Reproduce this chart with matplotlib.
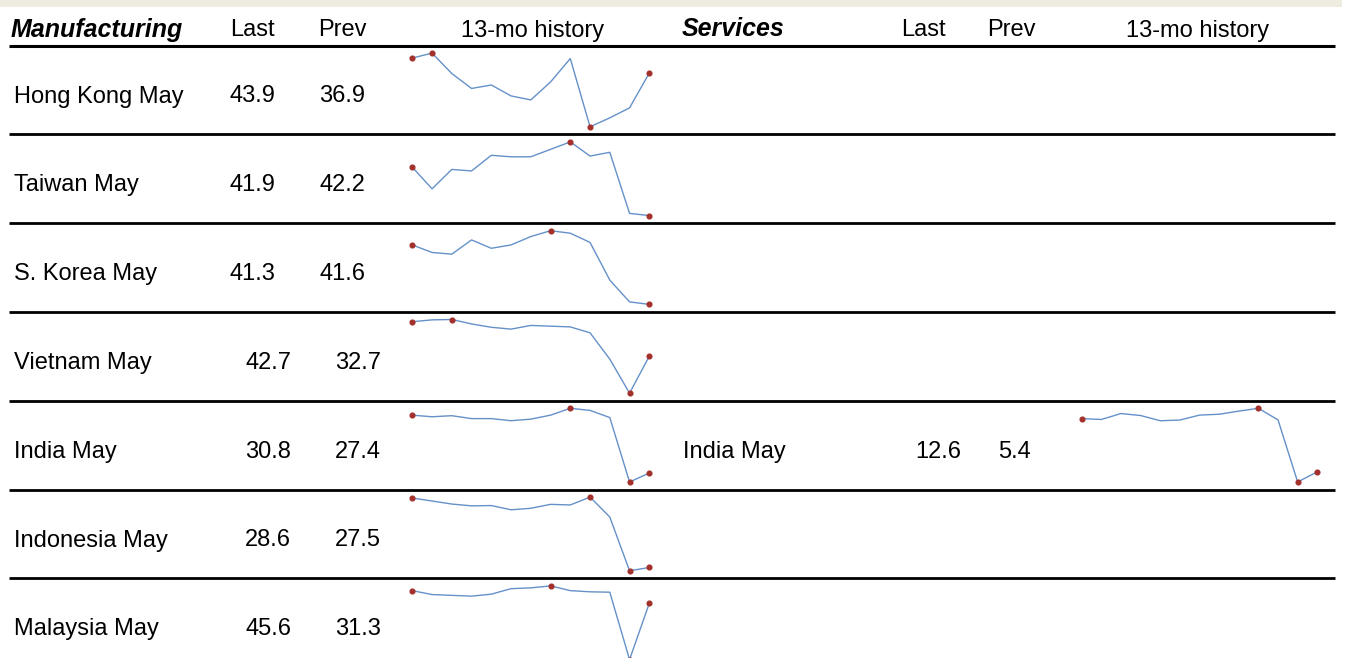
import matplotlib
matplotlib.use("Agg")
import matplotlib.pyplot as plt
import numpy as np

# ---------------- data ----------------
mfg_names = ["Hong Kong May", "Taiwan May", "S. Korea May", "Vietnam May",
             "India May", "Indonesia May", "Malaysia May"]
hk = [46.9, 47.9, 43.8, 40.8, 41.5, 39.3, 38.5, 42.1, 46.8, 33.1, 34.9, 36.9, 43.9]
tw = [48.4, 45.5, 48.1, 47.9, 50.0, 49.8, 49.8, 50.8, 51.8, 49.9, 50.4, 42.2, 41.9]
kr = [48.4, 47.5, 47.3, 49.0, 48.0, 48.4, 49.4, 50.1, 49.8, 48.7, 44.2, 41.6, 41.3]
vn = [52.0, 52.5, 52.6, 51.4, 50.5, 50.0, 51.0, 50.8, 50.6, 49.0, 41.9, 32.7, 42.7]
in_mfg = [52.7, 52.1, 52.5, 51.4, 51.4, 50.6, 51.2, 52.7, 55.3, 54.5, 51.8, 27.4, 30.8]
idn = [51.6, 50.6, 49.6, 49.0, 49.1, 47.7, 48.2, 49.5, 49.3, 51.9, 45.3, 27.5, 28.6]
my = [48.8, 47.8, 47.6, 47.4, 47.9, 49.3, 49.5, 50.0, 48.8, 48.5, 48.4, 31.3, 45.6]
mfg_series = [hk, tw, kr, vn, in_mfg, idn, my]

svc_names = ["India May"]
in_svc = [50.2, 49.6, 53.8, 52.4, 48.7, 49.2, 52.7, 53.3, 55.5, 57.5, 49.3, 5.4, 12.6]
svc_series = [in_svc]
svc_rows = [4]

headers_left = ["Manufacturing", "Last", "Prev", "13-mo history"]
headers_right = ["Services", "Last", "Prev", "13-mo history"]

# ---------------- layout ----------------
W, H = 1352, 658
fig = plt.figure(figsize=(W / 100, H / 100), dpi=100)
base = fig.add_axes([0, 0, 1, 1])
base.set_xlim(0, W)
base.set_ylim(H, 0)
base.axis("off")

FONT = ["Liberation Sans", "DejaVu Sans"]
FS = 17
LINE_C = "#6591C9"
MARK_C = "#A3302B"

# beige band at top
base.fill_between([0, 1342], 0, 7, color="#EEEBE1", lw=0)

row_top0 = 45.5
row_h = 88.8
n_rows = len(mfg_names)

# horizontal rules
for i in range(n_rows):
    y = row_top0 + i * row_h
    base.plot([9, 1335], [y, y], color="black", lw=2.0 if i else 2.2,
              solid_capstyle="butt")

# headers
hb = 36.5
base.text(11, hb, headers_left[0], fontsize=18, family=FONT, weight="bold",
          style="italic", va="baseline", ha="left")
base.text(252, hb, headers_left[1], fontsize=FS, family=FONT, va="baseline", ha="center")
base.text(342, hb, headers_left[2], fontsize=FS, family=FONT, va="baseline", ha="center")
base.text(533, hb, headers_left[3], fontsize=FS, family=FONT, va="baseline", ha="center")
base.text(682, hb, headers_right[0], fontsize=18, family=FONT, weight="bold",
          style="italic", va="baseline", ha="left")
base.text(923, hb, headers_right[1], fontsize=FS, family=FONT, va="baseline", ha="center")
base.text(1011, hb, headers_right[2], fontsize=FS, family=FONT, va="baseline", ha="center")
base.text(1198, hb, headers_right[3], fontsize=FS, family=FONT, va="baseline", ha="center")


def sparkline(vals, x0, x1, top):
    yt = top + 7.6
    yb = top + 81.3
    ax = fig.add_axes([x0 / W, 1 - yb / H, (x1 - x0) / W, (yb - yt) / H])
    v = np.asarray(vals)
    xs = np.arange(len(v))
    ax.plot(xs, v, color=LINE_C, lw=1.0, clip_on=False)
    idx = sorted({0, len(v) - 1, int(np.argmax(v)), int(np.argmin(v))})
    ax.plot(xs[idx], v[idx], "o", color=MARK_C, ms=3.4, mec=MARK_C,
            clip_on=False, zorder=3)
    ax.set_xlim(0, len(v) - 1)
    ax.set_ylim(v.min(), v.max())
    ax.axis("off")
    ax.patch.set_alpha(0)


for i, (name, vals) in enumerate(zip(mfg_names, mfg_series)):
    top = row_top0 + i * row_h
    bl = top + 57
    base.text(14, bl, name, fontsize=FS, family=FONT, va="baseline", ha="left")
    xl, xp = (275, 365) if i < 3 else (291, 381)
    base.text(xl, bl, f"{vals[-1]:.1f}", fontsize=FS, family=FONT, va="baseline", ha="right")
    base.text(xp, bl, f"{vals[-2]:.1f}", fontsize=FS, family=FONT, va="baseline", ha="right")
    sparkline(vals, 412.3, 649.3, top)

for r, name, vals in zip(svc_rows, svc_names, svc_series):
    top = row_top0 + r * row_h
    bl = top + 57
    base.text(683, bl, name, fontsize=FS, family=FONT, va="baseline", ha="left")
    base.text(961, bl, f"{vals[-1]:.1f}", fontsize=FS, family=FONT, va="baseline", ha="right")
    base.text(1031, bl, f"{vals[-2]:.1f}", fontsize=FS, family=FONT, va="baseline", ha="right")
    sparkline(vals, 1081.7, 1317.3, top)

fig.savefig("out.png", dpi=100)
